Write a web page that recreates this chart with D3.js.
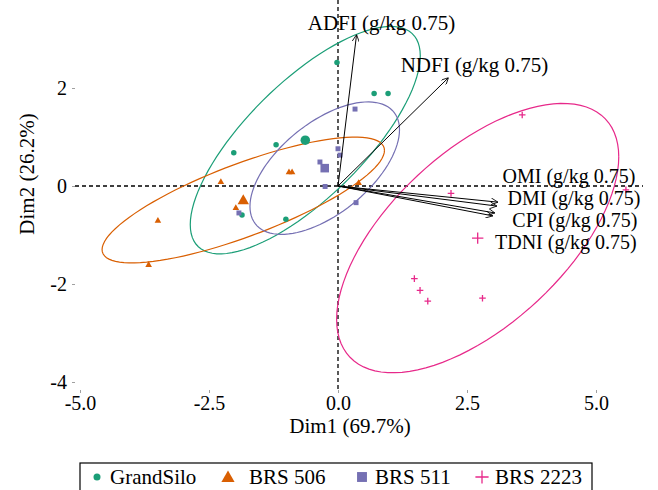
<!DOCTYPE html>
<html>
<head>
<meta charset="utf-8">
<script src="https://d3js.org/d3.v7.min.js"></script>
<style>
  body { margin: 0; background: #fff; }
  text { font-family: "Liberation Serif", "DejaVu Serif", serif; }
</style>
</head>
<body>
<script>
// individuals (Dim1, Dim2) per group
var grandSilo = [[-0.02, 2.52], [0.70, 1.89], [0.97, 1.89], [-1.20, 0.84], [-2.02, 0.68], [-1.86, -0.59], [-1.01, -0.68]];
var brs506   = [[-2.27, 0.09], [-0.95, 0.29], [-0.89, 0.29], [-1.98, -0.44], [-3.49, -0.70], [-3.67, -1.60], [0.40, 0.07]];
var brs511   = [[-1.92, -0.55], [-0.35, 0.49], [-0.25, -0.01], [0.00, 0.76], [0.04, 0.63], [0.33, 1.57], [0.35, -0.34]];
var brs2223  = [[3.57, 1.45], [2.19, -0.15], [5.58, -0.08], [1.48, -1.89], [1.59, -2.13], [1.74, -2.35], [2.80, -2.29]];

var groupNames = ["GrandSilo", "BRS 506", "BRS 511", "BRS 2223"];
var groupColors = ["#1b9e77", "#d95f02", "#7570b3", "#e7298a"];
var groupShapes = ["circle", "triangle", "square", "plus"];

// variable arrows
var varNames = ["ADFI (g/kg 0.75)", "NDFI (g/kg 0.75)", "OMI (g/kg 0.75)", "DMI (g/kg 0.75)", "CPI (g/kg 0.75)", "TDNI (g/kg 0.75)"];
var varDim1 = [0.36, 2.14, 3.10, 3.08, 3.04, 3.00];
var varDim2 = [3.09, 2.21, -0.33, -0.41, -0.55, -0.61];

var xTicks = [-5, -2.5, 0, 2.5, 5];
var yTicks = [-4, -2, 0, 2];

var W = 658, H = 490;
var ellipseR = 1.86;

var svg = d3.select("body").append("svg")
    .attr("width", W).attr("height", H);

var x = d3.scaleLinear().domain([-5, 5]).range([80, 596]);
var y = d3.scaleLinear().domain([-4, 2]).range([382, 88]);
var left = 75, right = 643, bottom = 390;

svg.append("defs").append("marker")
    .attr("id", "arr")
    .attr("viewBox", "0 0 10 10")
    .attr("refX", 10).attr("refY", 5)
    .attr("markerWidth", 7).attr("markerHeight", 7)
    .attr("markerUnits", "userSpaceOnUse")
    .attr("orient", "auto")
  .append("path")
    .attr("d", "M0,0 L10,5 L0,10")
    .attr("fill", "none").attr("stroke", "black").attr("stroke-width", 1.2);

// axes (no domain line)
var fmtX = function(d) { return d3.format(".1f")(d).replace("\u2212", "-"); };
var fmtY = function(d) { return String(d); };

var gx = svg.append("g").attr("transform", "translate(0," + bottom + ")")
    .call(d3.axisBottom(x).tickValues(xTicks).tickSize(3).tickPadding(3).tickFormat(fmtX));
var gy = svg.append("g").attr("transform", "translate(" + left + ",0)")
    .call(d3.axisLeft(y).tickValues(yTicks).tickSize(3).tickPadding(5).tickFormat(fmtY));
[gx, gy].forEach(function(g) {
  g.select(".domain").remove();
  g.selectAll(".tick line").attr("stroke", "#888").attr("stroke-width", 0.8);
  g.selectAll(".tick text").attr("fill", "black").style("font-size", "20px")
    .style("font-family", "'Liberation Serif', serif");
});

// zero lines
svg.append("line").attr("x1", left).attr("x2", right).attr("y1", y(0)).attr("y2", y(0))
    .attr("stroke", "black").attr("stroke-width", 1.3).attr("stroke-dasharray", "4,3");
svg.append("line").attr("x1", x(0)).attr("x2", x(0)).attr("y1", 0).attr("y2", bottom)
    .attr("stroke", "black").attr("stroke-width", 1.3).attr("stroke-dasharray", "4,3");

// ellipses from group covariance
var groups = [grandSilo, brs506, brs511, brs2223];
groups.forEach(function(pts, gi) {
  var mx = d3.mean(pts, function(p) { return p[0]; });
  var my = d3.mean(pts, function(p) { return p[1]; });
  var n = pts.length, sxx = 0, syy = 0, sxy = 0;
  pts.forEach(function(p) {
    sxx += (p[0] - mx) * (p[0] - mx);
    syy += (p[1] - my) * (p[1] - my);
    sxy += (p[0] - mx) * (p[1] - my);
  });
  sxx /= (n - 1); syy /= (n - 1); sxy /= (n - 1);
  var a = Math.sqrt(sxx), b = sxy / a, c = Math.sqrt(syy - b * b);
  var ring = d3.range(0, 101).map(function(i) {
    var t = i / 100 * 2 * Math.PI;
    var u = Math.cos(t) * ellipseR, v = Math.sin(t) * ellipseR;
    return [x(mx + a * u), y(my + b * u + c * v)];
  });
  svg.append("path").attr("d", d3.line()(ring))
    .attr("fill", "none").attr("stroke", groupColors[gi]).attr("stroke-width", 1.2);
});

function drawShape(g, shape, cx, cy, s, color) {
  if (shape == "circle") {
    g.append("circle").attr("cx", cx).attr("cy", cy).attr("r", s * 0.5).attr("fill", color);
  } else if (shape == "square") {
    g.append("rect").attr("x", cx - s * 0.45).attr("y", cy - s * 0.45)
      .attr("width", s * 0.9).attr("height", s * 0.9).attr("fill", color);
  } else if (shape == "triangle") {
    var h = s * 0.6;
    g.append("path").attr("d", "M" + cx + "," + (cy - h) + "L" + (cx + h) + "," + (cy + h * 0.75) +
        "L" + (cx - h) + "," + (cy + h * 0.75) + "Z").attr("fill", color);
  } else {
    var k = s * 0.6;
    g.append("path").attr("d", "M" + (cx - k) + "," + cy + "H" + (cx + k) + "M" + cx + "," + (cy - k) + "V" + (cy + k))
      .attr("stroke", color).attr("stroke-width", 1.3);
  }
}

// points and group means
var pg = svg.append("g");
groups.forEach(function(pts, gi) {
  pts.forEach(function(p) {
    drawShape(pg, groupShapes[gi], x(p[0]), y(p[1]), 5.5, groupColors[gi]);
  });
  var mx = d3.mean(pts, function(p) { return p[0]; });
  var my = d3.mean(pts, function(p) { return p[1]; });
  drawShape(pg, groupShapes[gi], x(mx), y(my), 9.5, groupColors[gi]);
});

// variable arrows and labels
var labelNudge = [[25, -5], [26, -6], [71, -19], [77, -1], [80, 14], [73, 33]];
varNames.forEach(function(name, i) {
  svg.append("line")
    .attr("x1", x(0)).attr("y1", y(0))
    .attr("x2", x(varDim1[i])).attr("y2", y(varDim2[i]))
    .attr("stroke", "black").attr("stroke-width", 1)
    .attr("marker-end", "url(#arr)");
  svg.append("text")
    .attr("x", x(varDim1[i]) + labelNudge[i][0])
    .attr("y", y(varDim2[i]) + labelNudge[i][1])
    .attr("text-anchor", "middle")
    .style("font-size", i < 2 ? "21px" : "20px")
    .text(name);
});

// axis titles
svg.append("text").attr("x", 350).attr("y", 433).attr("text-anchor", "middle")
  .style("font-size", "21px").text("Dim1 (69.7%)");
svg.append("text").attr("transform", "translate(34,174) rotate(-90)").attr("text-anchor", "middle")
  .style("font-size", "21px").text("Dim2 (26.2%)");

// legend
var lg = svg.append("g");
lg.append("rect").attr("x", 80).attr("y", 463).attr("width", 512).attr("height", 40)
  .attr("fill", "white").attr("stroke", "black").attr("stroke-width", 1.2);
var legX = [97, 228, 362, 482];
groupNames.forEach(function(name, i) {
  drawShape(lg, groupShapes[i], legX[i], 477, i == 0 ? 7 : 11, groupColors[i]);
  lg.append("text").attr("x", legX[i] + (i == 1 ? 21 : 13)).attr("y", 484)
    .style("font-size", "21px").text(name);
});
</script>
</body>
</html>
